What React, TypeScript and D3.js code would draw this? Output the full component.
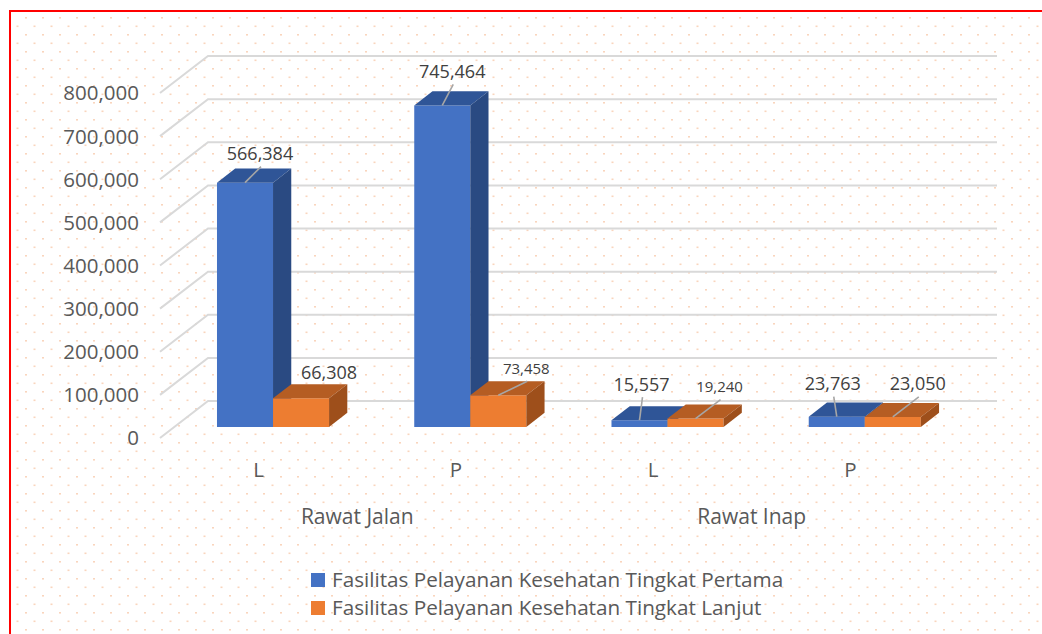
import React, { useEffect, useRef } from 'react'
import * as d3 from 'd3'

// data
const groups = ['Rawat Jalan', 'Rawat Inap']
const categories = ['L', 'P', 'L', 'P']
const seriesNames = [
  'Fasilitas Pelayanan Kesehatan Tingkat Pertama',
  'Fasilitas Pelayanan Kesehatan Tingkat Lanjut',
]
const pertama = [566384, 745464, 15557, 23763]
const lanjut = [66308, 73458, 19240, 23050]
const yTicks = [0, 100000, 200000, 300000, 400000, 500000, 600000, 700000, 800000]

// label placement (dx, dy from top front centre of bar), leader on/off, small font
const labelLayout = [
  [{ dx: 15, dy: -29, leader: true, small: false }, { dx: 28, dy: -26, leader: false, small: false }],
  [{ dx: 10, dy: -34, leader: true, small: false }, { dx: 28, dy: -27, leader: true, small: true }],
  [{ dx: 2, dy: -36, leader: true, small: false }, { dx: 24, dy: -32, leader: true, small: true }],
  [{ dx: -4, dy: -33, leader: true, small: false }, { dx: 25, dy: -33, leader: true, small: false }],
]

const colors = [
  { front: '#4472C4', top: '#2F5597', side: '#2A4A82' },
  { front: '#ED7D31', top: '#B55D23', side: '#9E4F1B' },
]

const W = 1042
const H = 634
const FONT = "'Open Sans', sans-serif"
const TXT = '#595959'

function App() {
  const ref = useRef<SVGSVGElement>(null)

  useEffect(() => {
    const svg = d3.select(ref.current)
    svg.selectAll('*').remove()

    // background dots
    const defs = svg.append('defs')
    const pat = defs.append('pattern')
      .attr('id', 'dots')
      .attr('patternUnits', 'userSpaceOnUse')
      .attr('width', 17).attr('height', 17)
    pat.append('rect').attr('x', 8).attr('y', 0).attr('width', 2).attr('height', 1.6).attr('fill', '#F8CBAD').attr('opacity', 0.8)
    pat.append('rect').attr('x', 16.5).attr('y', 8.5).attr('width', 2).attr('height', 1.6).attr('fill', '#F8CBAD').attr('opacity', 0.8)
    pat.append('rect').attr('x', -0.5).attr('y', 8.5).attr('width', 2).attr('height', 1.6).attr('fill', '#F8CBAD').attr('opacity', 0.8)

    svg.append('rect').attr('width', W).attr('height', H).attr('fill', '#fff')
    svg.append('rect').attr('x', 11).attr('y', 12).attr('width', W).attr('height', H).attr('fill', 'url(#dots)')
    svg.append('rect').attr('x', 10).attr('y', 11).attr('width', 1100).attr('height', 700)
      .attr('fill', 'none').attr('stroke', '#FF0000').attr('stroke-width', 2)

    // 3d projection
    const depthX = 48
    const depthY = -37
    const x0 = d3.scaleBand<number>().domain(d3.range(categories.length)).range([160, 949])
    const x1 = d3.scaleBand<number>().domain([0, 1]).range([0, x0.bandwidth()]).paddingOuter(0.76)
    const y = d3.scaleLinear().domain([0, 800000]).range([438, 93])
    const P = (x: number, v: number, d: number): [number, number] => [x + d * depthX, y(v) + d * depthY]
    const poly = (pts: [number, number][]) => pts.map(p => p.join(',')).join(' ')

    // walls
    const grid = svg.append('g').attr('stroke', '#D9D9D9').attr('stroke-width', 2).attr('fill', 'none')
    yTicks.forEach(t => {
      const a = P(160, t, 0)
      const b = P(160, t, 1)
      const c = P(949, t, 1)
      grid.append('polyline').attr('points', poly([a, b, c]))
    })

    svg.append('g').selectAll('text').data(yTicks).enter().append('text')
      .attr('x', 139).attr('y', d => y(d))
      .attr('dy', '0.36em')
      .attr('text-anchor', 'end')
      .attr('font-family', FONT).attr('font-size', 20.5).attr('fill', TXT)
      .text(d => d3.format(',')(d))

    // bars
    const d1 = 0.3
    const d2 = 0.68
    const series = [pertama, lanjut]
    const barsG = svg.append('g')
    categories.forEach((_, ci) => {
      series.forEach((vals, si) => {
        const v = vals[ci]
        const xl = x0(ci)! + x1(si)!
        const xr = xl + x1.bandwidth()
        const c = colors[si]
        barsG.append('polygon')
          .attr('points', poly([P(xl, v, d1), P(xr, v, d1), P(xr, 0, d1), P(xl, 0, d1)]))
          .attr('fill', c.front)
        barsG.append('polygon')
          .attr('points', poly([P(xl, v, d1), P(xr, v, d1), P(xr, v, d2), P(xl, v, d2)]))
          .attr('fill', c.top)
        barsG.append('polygon')
          .attr('points', poly([P(xr, v, d1), P(xr, 0, d1), P(xr, 0, d2), P(xr, v, d2)]))
          .attr('fill', c.side)
      })
    })

    // data labels
    const labG = svg.append('g')
    categories.forEach((_, ci) => {
      series.forEach((vals, si) => {
        const v = vals[ci]
        const L = labelLayout[ci][si]
        const xl = x0(ci)! + x1(si)!
        const [fx, fy] = P(xl + x1.bandwidth() / 2, v, d1)
        const lx = fx + L.dx
        const ly = fy + L.dy
        if (L.leader) {
          labG.append('line')
            .attr('x1', lx + 1).attr('y1', ly + 13)
            .attr('x2', fx).attr('y2', fy)
            .attr('stroke', '#A6A6A6').attr('stroke-width', 1.6)
        }
        labG.append('text')
          .attr('x', lx).attr('y', ly).attr('dy', '0.36em')
          .attr('text-anchor', 'middle')
          .attr('font-family', FONT).attr('font-size', L.small ? 15 : 18).attr('fill', '#404040')
          .text(d3.format(',')(v))
      })
    })

    // category axis
    svg.append('g').selectAll('text').data(categories).enter().append('text')
      .attr('x', (_, i) => x0(i)! + x0.bandwidth() / 2)
      .attr('y', 470).attr('dy', '0.36em')
      .attr('text-anchor', 'middle')
      .attr('font-family', FONT).attr('font-size', 20.5).attr('fill', TXT)
      .text(d => d)

    svg.append('g').selectAll('text').data(groups).enter().append('text')
      .attr('x', (_, i) => x0(i * 2)! + x0.bandwidth())
      .attr('y', 516).attr('dy', '0.36em')
      .attr('text-anchor', 'middle')
      .attr('font-family', FONT).attr('font-size', 21).attr('fill', TXT)
      .text(d => d)

    // legend
    const leg = svg.append('g')
    seriesNames.forEach((name, i) => {
      const cy = 580 + i * 28
      leg.append('rect').attr('x', 311).attr('y', cy - 7).attr('width', 14).attr('height', 14).attr('fill', colors[i].front)
      leg.append('text').attr('x', 332).attr('y', cy).attr('dy', '0.36em')
        .attr('font-family', FONT).attr('font-size', 20.7).attr('fill', TXT)
        .text(name)
    })
  }, [])

  return (
    <svg ref={ref} width={W} height={H} style={{ position: 'absolute', left: 0, top: 0 }} />
  )
}

export default App
